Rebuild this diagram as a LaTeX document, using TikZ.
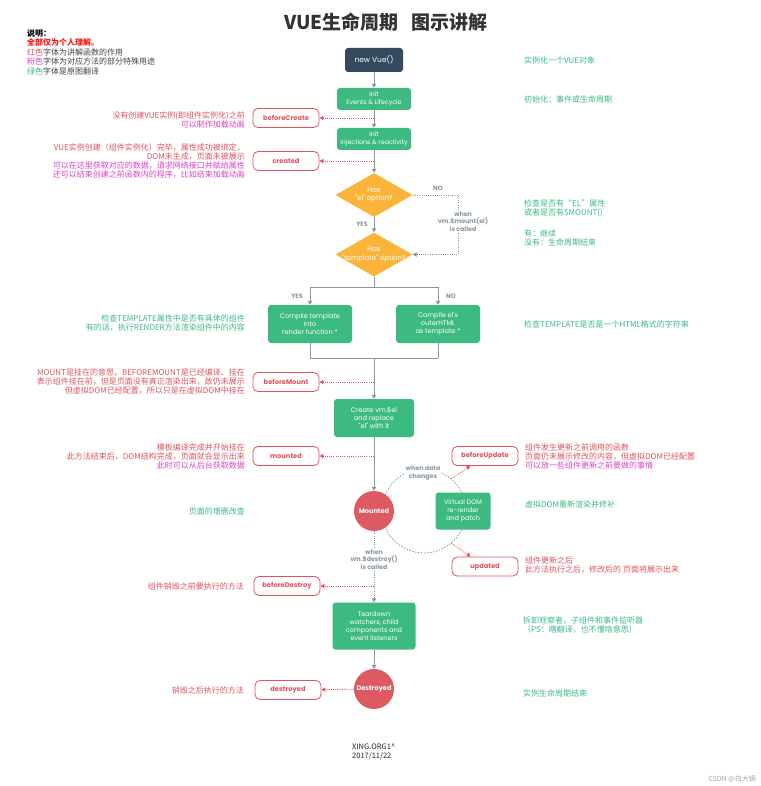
\documentclass[tikz,border=0pt]{standalone}
\usepackage{fontspec}
\setmainfont{Noto Sans CJK SC}
\newfontfamily\boxfont{Poppins}
\usetikzlibrary{shapes.geometric,arrows.meta,calc}
\definecolor{vgreen}{HTML}{3DBA80}
\definecolor{vdark}{HTML}{35495E}
\definecolor{vorange}{HTML}{FBB43A}
\definecolor{vred}{HTML}{DE5A63}
\definecolor{hookred}{HTML}{E0535C}
\definecolor{pinkm}{HTML}{E040C8}
\definecolor{tgreen}{HTML}{3DBA80}
\definecolor{lgray}{HTML}{8A97A3}
\definecolor{legred}{HTML}{FF1A1A}
\definecolor{legtext}{HTML}{444444}
\begin{document}
\begin{tikzpicture}[x=1pt,y=-1pt,
  hook/.style={draw=hookred, line width=0.8pt, fill=white, rounded corners=5pt,
    minimum width=66pt, minimum height=19pt, inner sep=0pt, text=hookred,
    font=\boxfont\bfseries\fontsize{6.7}{7}\selectfont},
  gbox/.style={fill=vgreen, rounded corners=3pt, text=white, align=center, inner sep=0pt,
    font=\boxfont\fontsize{6.6}{8}\selectfont},
  diam/.style={diamond, fill=vorange, aspect=1.75, minimum width=77pt, minimum height=44pt,
    inner sep=0pt},
  diamtext/.style={text=white, align=center, inner sep=0pt, font=\boxfont\fontsize{6.9}{8.4}\selectfont},
  circ/.style={circle, fill=vred, minimum size=40pt, inner sep=0pt, text=white,
    font=\boxfont\bfseries\fontsize{6.6}{7}\selectfont},
  glabel/.style={text=lgray, align=center, inner sep=1pt,
    font=\boxfont\bfseries\fontsize{6.3}{7.8}\selectfont},
  flowline/.style={draw=lgray, line width=1pt},
  flow/.style={flowline, -{Triangle[length=4pt,width=4.5pt]}},
  hookarrow/.style={draw=hookred, line width=0.8pt, dash pattern=on 1pt off 1.2pt,
    -{Triangle[length=4pt,width=4pt]}},
  graydot/.style={draw=lgray, line width=0.8pt, dash pattern=on 1pt off 1.2pt},
  loopd/.style={draw=lgray, line width=0.8pt, dash pattern=on 1.5pt off 1.5pt},
  annor/.style={anchor=east, align=right, inner sep=0pt, font=\fontsize{8}{9}\selectfont},
  annol/.style={anchor=west, align=left, inner sep=0pt, font=\fontsize{8}{9}\selectfont}
]
\useasboundingbox (0,0) rectangle (760,786);
\fill[white] (0,0) rectangle (760,786);

% title and legend
\node[font=\bfseries\fontsize{19}{20}\selectfont, text=black!80] (title) at (386,22) {VUE生命周期\hspace{0.7em}图示讲解};
\node[anchor=north west, align=left, inner sep=0pt, text=legtext, font=\fontsize{8}{9.5}\selectfont] (legend) at (27,29)
 {\textbf{\textcolor{black}{说明：}}\\
  \textcolor{legred}{\textbf{全部仅为个人理解。}}\\
  \textcolor{hookred}{红色}字体为讲解函数的作用\\
  \textcolor{pinkm}{粉色}字体为对应方法的部分特殊用途\\
  \textcolor{tgreen}{绿色}字体是原图翻译};

% loop of updates
\coordinate (loopc) at (424,511);
\draw[loopd] (loopc) circle[radius=42pt];

% main flow nodes
\node[fill=vdark, rounded corners=3pt, minimum width=58pt, minimum height=24pt, inner sep=0pt,
  text=white, font=\boxfont\fontsize{7.5}{8}\selectfont] (nv) at (374,60) {new Vue()};
\node[gbox, minimum width=74pt, minimum height=22pt, font=\boxfont\fontsize{6.3}{7.2}\selectfont] (i1) at (374,99) {Init\\Events \& Lifecycle};
\node[gbox, minimum width=74pt, minimum height=22pt, font=\boxfont\fontsize{6.3}{7.2}\selectfont] (i2) at (374,139) {Init\\injections \& reactivity};
\node[diam, label={[diamtext]center:{Has\\"el" option?}}] (d1) at (374,195) {};
\node[diam, label={[diamtext]center:{Has\\"template" option?}}] (d2) at (374,254.5) {};
\node[gbox, minimum width=84pt, minimum height=38pt] (c1) at (310,324) {Compile template\\into\\render function *};
\node[gbox, minimum width=84pt, minimum height=38pt] (c2) at (438,324) {Compile el's\\outerHTML\\as template *};
\node[gbox, minimum width=80pt, minimum height=38pt] (cr) at (374,418) {Create vm.\$el\\and replace\\"el" with it};
\node[circ] (mt) at (374,511) {Mounted};
\node[gbox, minimum width=55pt, minimum height=37pt, font=\boxfont\fontsize{6.5}{8}\selectfont] (vd) at (463,511) {Virtual DOM\\re-render\\and patch};
\node[gbox, minimum width=83pt, minimum height=47pt, font=\boxfont\fontsize{6.5}{8}\selectfont] (td) at (374,626) {Teardown\\watchers, child\\components and\\event listeners};
\node[circ] (ds) at (374,689) {Destroyed};

% hook nodes
\node[hook] (bc) at (286,118) {beforeCreate};
\node[hook] (cd) at (286,161) {created};
\node[hook] (bm) at (286,382) {beforeMount};
\node[hook] (mo) at (286,456) {mounted};
\node[hook] (bu) at (485,456) {beforeUpdate};
\node[hook] (up) at (485,566.5) {updated};
\node[hook] (bd) at (287,586) {beforeDestroy};
\node[hook] (dd) at (288,690) {destroyed};

% main flow connectors
\draw[flow] (nv) -- (i1);
\draw[flow] (i1) -- (i2);
\draw[flow] (i2) -- (d1);
\draw[flow] (d1) -- (d2);
\coordinate (br) at (374,287);
\coordinate (brl) at (310,287);
\coordinate (brr) at (438,287);
\draw[flowline] (d2) -- (br);
\draw[flowline] (brl) -- (brr);
\draw[flow] (brl) -- (c1);
\draw[flow] (brr) -- (c2);
\coordinate (jl) at (310,358);
\coordinate (jr) at (438,358);
\coordinate (jm) at (374,358);
\draw[flowline] (c1) -- (jl) -- (jr);
\draw[flowline] (c2) -- (jr);
\draw[flow] (jm) -- (cr);
\draw[flow] (cr) -- (mt);
\draw[graydot, -{Triangle[length=4pt,width=4.5pt]}] (mt) -- (td);
\draw[flow] (td) -- (ds);

% no-el path
\coordinate (ne1) at (458,195);
\coordinate (ne2) at (458,254.5);
\draw[graydot, -{Triangle[length=4pt,width=4.5pt]}] (d1.east) -- (ne1) -- (ne2) -- (d2.east);

% hook connectors
\coordinate (h1) at (374,118);
\coordinate (h2) at (374,161);
\coordinate (h3) at (374,382);
\coordinate (h4) at (374,456);
\coordinate (h5) at (374,586);
\draw[hookarrow] (h1) -- (bc);
\draw[hookarrow] (h2) -- (cd);
\draw[hookarrow] (h3) -- (bm);
\draw[hookarrow] (h4) -- (mo);
\draw[hookarrow] (h5) -- (bd);
\draw[hookarrow] (ds) -- (dd);
\coordinate (lu) at (451,479);
\coordinate (ll) at (451,543);
\draw[hookarrow] (lu) -- (bu);
\draw[hookarrow] (ll) -- (up);

% gray labels
\node[glabel] (lno) at (438,188) {NO};
\node[glabel] (lyes) at (362,224) {YES};
\node[glabel, fill=white] (lmount) at (463,221.5) {when\\vm.\$mount(el)\\is called};
\node[glabel] (lyes2) at (297,296.5) {YES};
\node[glabel] (lno2) at (451,296.5) {NO};
\node[glabel, fill=white] (ldata) at (423,473) {when data\\changes};
\node[glabel, fill=white] (ldes) at (374,559.5) {when\\vm.\$destroy()\\is called};

% left annotations
\node[annor] (a1) at (245,119.5) {\textcolor{hookred}{没有创建VUE实例(即组件实例化)之前}\\\textcolor{pinkm}{可以制作加载动画}};
\node[annor] (a2) at (245,161.5) {\textcolor{hookred}{VUE实例创建（组件实例化）完毕，属性成功被绑定，}\\\textcolor{hookred}{DOM未生成，页面未被展示}\\\textcolor{pinkm}{可以在这里获取对应的数据，请求网络接口并赋给属性}\\\textcolor{pinkm}{还可以结束创建之前函数内的程序，比如结束加载动画}};
\node[annor, text=tgreen] (a3) at (245,323.5) {检查TEMPLATE属性中是否有具体的组件\\有的话，执行RENDER方法渲染组件中的内容};
\node[annor, text=hookred] (a4) at (245,382) {MOUNT是挂在的意思，BEFOREMOUNT是已经编译、挂在\\表示组件挂在前，但是页面没有真正渲染出来，故仍未展示\\但虚拟DOM已经配置，所以只是在虚拟DOM中挂在};
\node[annor] (a5) at (245,456) {\textcolor{hookred}{模板编译完成并开始挂在}\\\textcolor{hookred}{此方法结束后，DOM结构完成，页面就会显示出来}\\\textcolor{pinkm}{此时可以从后台获取数据}};
\node[annor, text=tgreen] (a6) at (245,511) {页面的增删改查};
\node[annor, text=hookred] (a7) at (244,586) {组件销毁之前要执行的方法};
\node[annor, text=hookred] (a8) at (244,690) {销毁之后执行的方法};

% right annotations
\node[annol, text=tgreen] (r1) at (524,60) {实例化一个VUE对象};
\node[annol, text=tgreen] (r2) at (524,99) {初始化：事件或生命周期};
\node[annol, text=tgreen] (r3) at (524,208.5) {检查是否有“EL”属性\\或者是否有\$MOUNT()};
\node[annol, text=tgreen] (r4) at (524,237.5) {有：继续\\没有：生命周期结束};
\node[annol, text=tgreen] (r5) at (524,324) {检查TEMPLATE是否是一个HTML格式的字符串};
\node[annol] (r6) at (525,456) {\textcolor{hookred}{组件发生更新之前调用的函数}\\\textcolor{hookred}{页面仍未展示修改的内容，但虚拟DOM已经配置}\\\textcolor{pinkm}{可以放一些组件更新之前要做的事情}};
\node[annol, text=tgreen] (r7) at (525,504) {虚拟DOM重新渲染并修补};
\node[annol, text=hookred] (r8) at (525,565.5) {组件更新之后\\此方法执行之后，修改后的 页面将展示出来};
\node[annol, text=tgreen] (r9) at (523,625.5) {拆卸观察者，子组件和事件监听器\\（PS：瞎翻译，也不懂啥意思）};
\node[annol, text=tgreen] (r10) at (523,693) {实例生命周期结束};

% footer
\node[anchor=west, align=left, inner sep=0pt, text=black!85, font=\fontsize{7.5}{9.5}\selectfont] (foot) at (352,752) {XING.ORG1\textasciicircum\\2017/11/22};
\node[anchor=east, inner sep=0pt, text=black!35, font=\fontsize{7}{8}\selectfont] (wm) at (756,779) {CSDN @白大锅};
\end{tikzpicture}
\end{document}
